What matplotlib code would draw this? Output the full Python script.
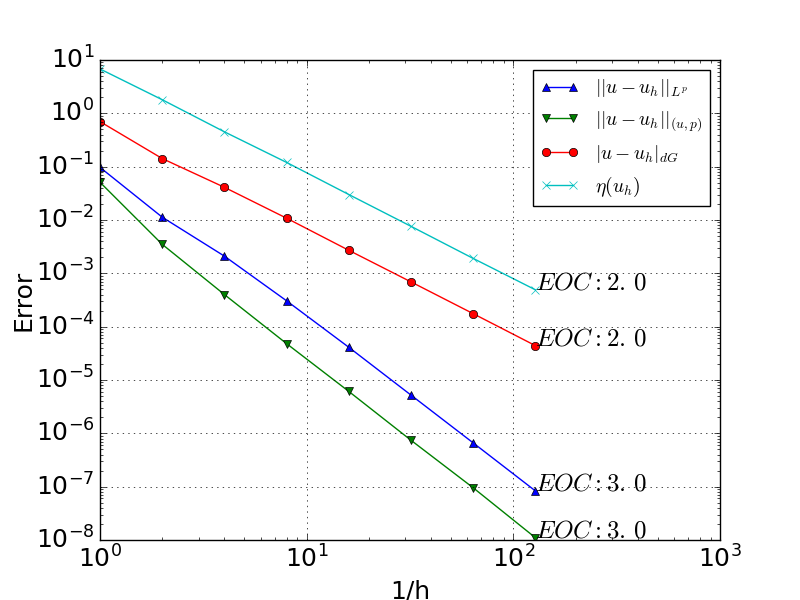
import matplotlib
matplotlib.use('Agg')
import matplotlib.pyplot as plt

plt.style.use('classic')
plt.rcParams['mathtext.fontset'] = 'cm'

inv_h = [1, 2, 4, 8, 16, 32, 64, 128]
err_lp = [0.097, 0.0113, 0.0021, 3.05e-4, 4.1e-5, 5.2e-6, 6.6e-7, 8.3e-8]
err_up = [0.051, 0.0035, 4.0e-4, 4.8e-5, 6.1e-6, 7.4e-7, 9.5e-8, 1.1e-8]
err_dg = [0.70, 0.142, 0.041, 0.0108, 0.0027, 6.9e-4, 1.75e-4, 4.4e-5]
eta = [6.8, 1.8, 0.45, 0.12, 0.03, 0.0076, 0.0019, 4.9e-4]
eoc = ['3.0', '3.0', '2.0', '2.0']

fig = plt.figure(figsize=(8, 6), dpi=100)
ax = fig.add_subplot(111)

series = [err_lp, err_up, err_dg, eta]
ax.loglog(inv_h, err_lp, 'b^-', label=r'$||u-u_h||_{L^p}$')
ax.loglog(inv_h, err_up, 'gv-', label=r'$||u-u_h||_{(u,p)}$')
ax.loglog(inv_h, err_dg, 'ro-', label=r'$|u-u_h|_{dG}$')
ax.loglog(inv_h, eta, 'cx-', label=r'$\eta(u_h)$')

# old mathtext put a small gap after the decimal point
for s, r in zip(series, eoc):
    a, b = r.split('.')
    ax.text(inv_h[-1], s[-1], r'$EOC: %s.\,%s$' % (a, b), fontsize=18)

ax.set_xlim(1, 1000)
ax.set_ylim(1e-8, 10)
ax.grid(True)
ax.set_xlabel('1/h', fontsize=18)
ax.set_ylabel('Error', fontsize=18, labelpad=0)
ax.tick_params(labelsize=18)
ax.legend(loc='upper right', fontsize=14)

fig.savefig('out.png', dpi=100)
